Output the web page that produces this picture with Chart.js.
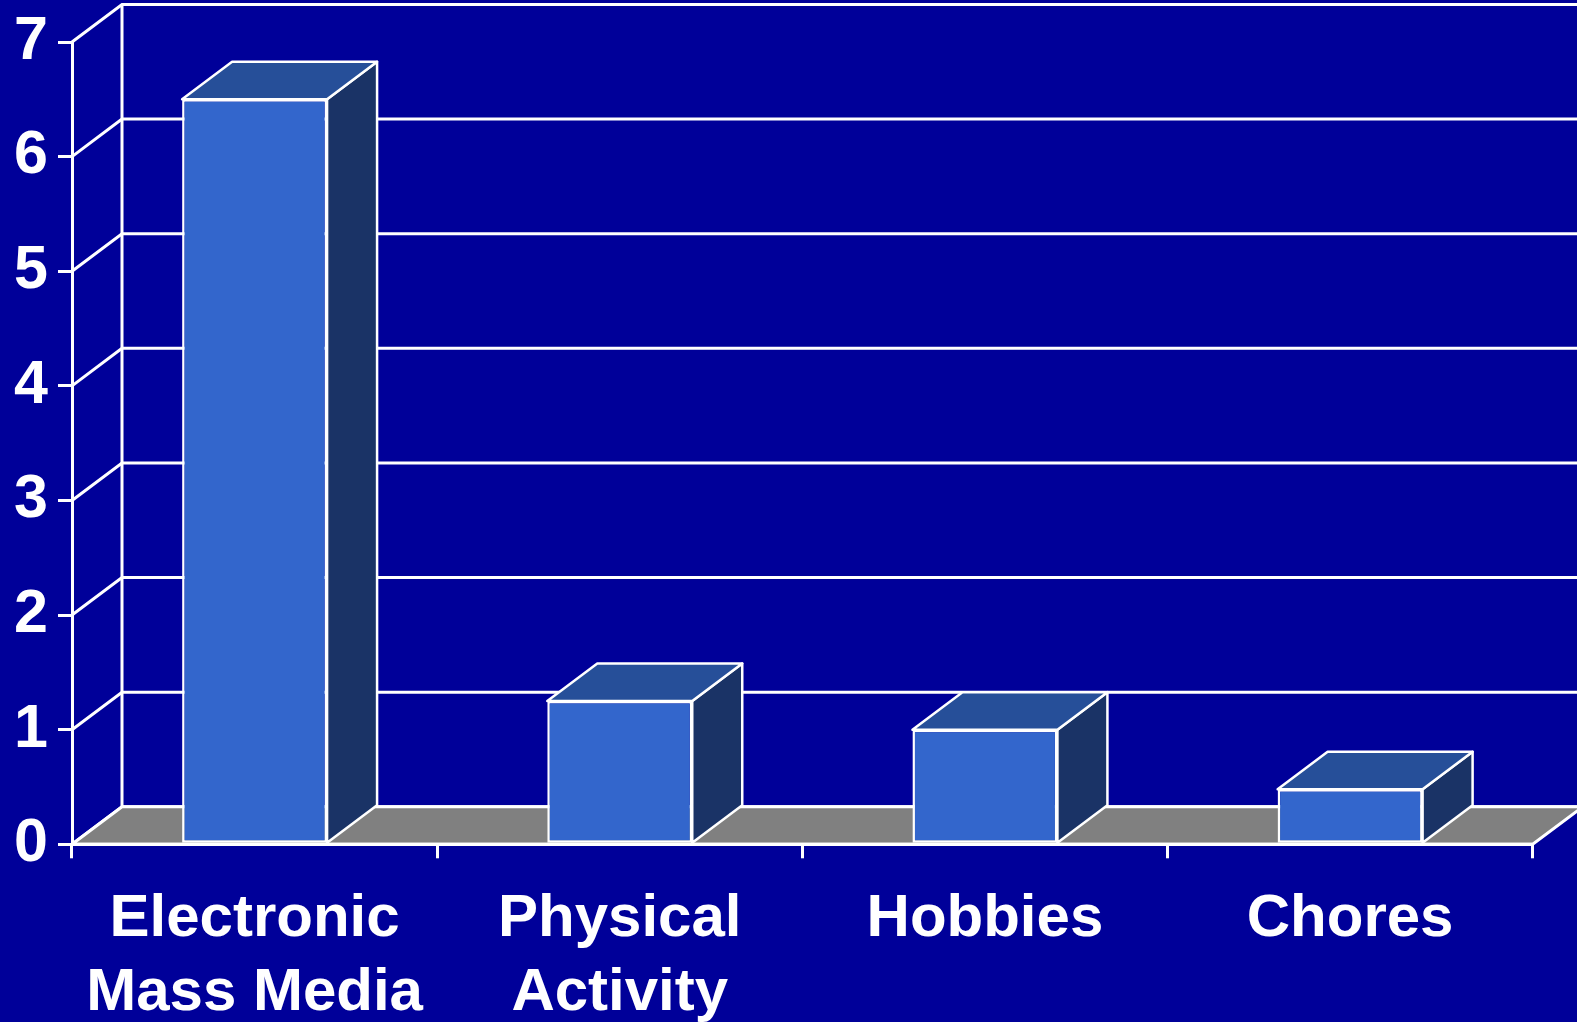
<!DOCTYPE html>
<html>
<head>
<meta charset="utf-8">
<title>Time Use</title>
<script src="https://cdn.jsdelivr.net/npm/chart.js@4.4.1/dist/chart.umd.min.js"></script>
<style>
  html, body { margin: 0; padding: 0; background: #000099; overflow: hidden; }
  #wrap { width: 1577px; height: 1022px; }
</style>
</head>
<body>
<div id="wrap"><canvas id="chart"></canvas></div>
<script>
// data
const categories = [['Electronic', 'Mass Media'], ['Physical', 'Activity'], 'Hobbies', 'Chores'];
const hours = [6.5, 1.25, 1.0, 0.48];
const yTicks = [0, 1, 2, 3, 4, 5, 6, 7];

// depth of the fake 3D box
const DX = 50;
const DY = -37.5;

const WHITE = '#ffffff';
const FLOOR = '#808080';
const BAR_FRONT = '#3366cc';
const BAR_TOP = '#264f99';
const BAR_SIDE = '#1a3366';

// draws back wall, side wall, floor and the top/right faces of each bar
const box3d = {
  id: 'box3d',
  beforeDatasetsDraw(chart) {
    const ctx = chart.ctx;
    const y = chart.scales.y;
    const x = chart.scales.x;
    const left = x.left, right = x.right;
    const bottom = y.getPixelForValue(0);

    ctx.save();
    ctx.strokeStyle = WHITE;
    ctx.lineWidth = 3;

    // back wall gridlines + side wall diagonals
    yTicks.forEach(v => {
      const py = y.getPixelForValue(v);
      ctx.beginPath();
      ctx.moveTo(left, py);
      ctx.lineTo(left + DX, py + DY);
      ctx.lineTo(chart.width + 10, py + DY);
      ctx.stroke();
    });
    ctx.beginPath();
    ctx.moveTo(left + DX, y.getPixelForValue(yTicks[yTicks.length - 1]) + DY);
    ctx.lineTo(left + DX, bottom + DY);
    ctx.stroke();

    // floor
    ctx.beginPath();
    ctx.moveTo(left, bottom);
    ctx.lineTo(right, bottom);
    ctx.lineTo(right + DX, bottom + DY);
    ctx.lineTo(left + DX, bottom + DY);
    ctx.closePath();
    ctx.fillStyle = FLOOR;
    ctx.fill();
    ctx.stroke();

    // bar sides and tops
    ctx.lineWidth = 2.5;
    ctx.lineJoin = 'round';
    chart.getDatasetMeta(0).data.forEach(bar => {
      const l = bar.x - bar.width / 2;
      const r = bar.x + bar.width / 2;
      const t = bar.y;
      const b = bar.base;

      ctx.beginPath();
      ctx.moveTo(r, t);
      ctx.lineTo(r + DX, t + DY);
      ctx.lineTo(r + DX, b + DY);
      ctx.lineTo(r, b);
      ctx.closePath();
      ctx.fillStyle = BAR_SIDE;
      ctx.fill();
      ctx.stroke();

      ctx.beginPath();
      ctx.moveTo(l, t);
      ctx.lineTo(l + DX, t + DY);
      ctx.lineTo(r + DX, t + DY);
      ctx.lineTo(r, t);
      ctx.closePath();
      ctx.fillStyle = BAR_TOP;
      ctx.fill();
      ctx.stroke();
    });
    ctx.restore();
  },
  afterDatasetsDraw(chart) {
    // front edge of the floor over the bars' bottom borders
    const ctx = chart.ctx;
    const y = chart.scales.y;
    const x = chart.scales.x;
    const bottom = y.getPixelForValue(0);
    ctx.save();
    ctx.strokeStyle = WHITE;
    ctx.lineWidth = 3;
    ctx.beginPath();
    ctx.moveTo(x.left, bottom);
    ctx.lineTo(x.right, bottom);
    ctx.stroke();
    ctx.restore();
  }
};

const family = '"Liberation Sans", Arial, sans-serif';
const xFont = { family: family, size: 60, weight: 'bold', lineHeight: 1.23 };
const yFont = { family: family, size: 61, weight: 'bold', lineHeight: 1 };

new Chart(document.getElementById('chart'), {
  type: 'bar',
  data: {
    labels: categories,
    datasets: [{
      data: hours,
      backgroundColor: BAR_FRONT,
      borderColor: WHITE,
      borderWidth: 2.5,
      borderSkipped: false,
      categoryPercentage: 1,
      barPercentage: 0.397
    }]
  },
  options: {
    responsive: true,
    maintainAspectRatio: false,
    animation: false,
    layout: { padding: { left: 0, top: 42, right: 44.3, bottom: 0 } },
    plugins: {
      legend: { display: false },
      tooltip: { enabled: false }
    },
    scales: {
      x: {
        grid: { drawOnChartArea: false, color: WHITE, lineWidth: 3, tickLength: 14, offset: true },
        border: { color: WHITE, width: 3 },
        ticks: { color: WHITE, font: xFont, padding: 24, maxRotation: 0, autoSkip: false },
        afterFit(scale) { scale.height = 177.7; }
      },
      y: {
        min: 0,
        max: 7,
        grid: { drawOnChartArea: false, color: WHITE, lineWidth: 3, tickLength: 14 },
        border: { color: WHITE, width: 3 },
        ticks: { color: WHITE, font: yFont, stepSize: 1, padding: 10 },
        afterFit(scale) { scale.width = 72; }
      }
    }
  },
  plugins: [box3d]
});
</script>
</body>
</html>
